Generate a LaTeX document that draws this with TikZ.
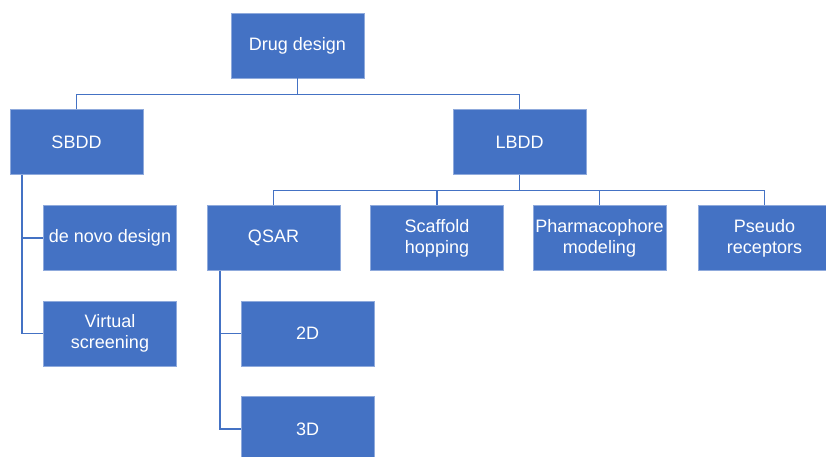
\documentclass[tikz,border=0pt]{standalone}
\usepackage{fontspec}
\setmainfont{Liberation Sans}
\definecolor{boxblue}{HTML}{4472C4}
\definecolor{edgeblue}{HTML}{8FAADC}
\begin{document}
\begin{tikzpicture}[x=1pt,y=-1pt,
  box/.style={rectangle, fill=boxblue, draw=edgeblue, line width=0.6pt, text=white,
    minimum width=133pt, minimum height=65pt, inner sep=2pt, align=center,
    font=\fontsize{18}{21}\selectfont},
  link/.style={draw=boxblue, line width=1.3pt}]
\useasboundingbox (0,0) rectangle (826,457);
\node[box] (dd) at (297.5,45.5){Drug design};
\node[box] (sbdd) at (76.5,142){SBDD};
\node[box] (lbdd) at (519.5,142){LBDD};
\draw[link](dd.south) -- ++(0,16) -| (sbdd.north);
\draw[link](dd.south) -- ++(0,16) -| (lbdd.north);
\node[box] (denovo) at (110,238){de novo design};
\node[box] (virtual) at (110,333.5){Virtual\\screening};
\draw[link]([xshift=-54.5pt]sbdd.south) |- (denovo.west);
\draw[link]([xshift=-54.5pt]sbdd.south) |- (virtual.west);
\node[box] (qsar) at (273.5,238){QSAR};
\node[box] (scaffold) at (437,238){Scaffold\\hopping};
\node[box] (pharma) at (599.5,238){Pharmacophore\\modeling};
\node[box] (pseudo) at (764.5,238){Pseudo\\receptors};
\draw[link](lbdd.south) -- ++(0,16) -| (qsar.north);
\draw[link](lbdd.south) -- ++(0,16) -| (scaffold.north);
\draw[link](lbdd.south) -- ++(0,16) -| (pharma.north);
\draw[link](lbdd.south) -- ++(0,16) -| (pseudo.north);
\node[box] (twod) at (307.5,333.5){2D};
\node[box] (threed) at (307.5,429){3D};
\draw[link]([xshift=-53.5pt]qsar.south) |- (twod.west);
\draw[link]([xshift=-53.5pt]qsar.south) |- (threed.west);
\end{tikzpicture}
\end{document}
